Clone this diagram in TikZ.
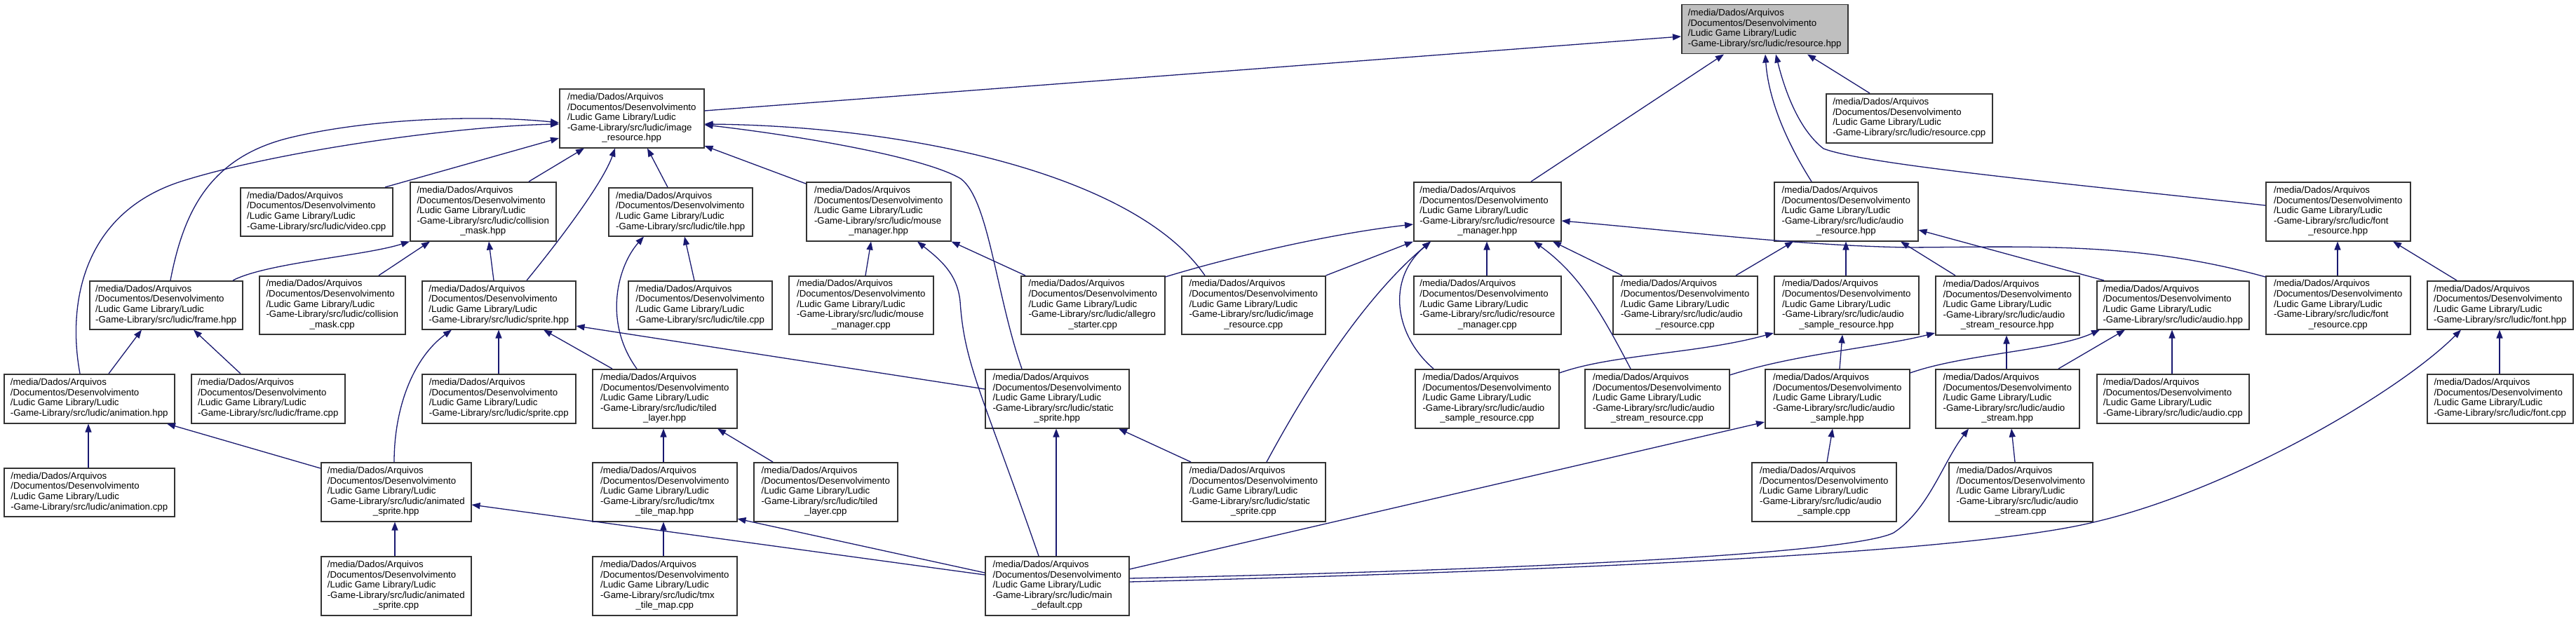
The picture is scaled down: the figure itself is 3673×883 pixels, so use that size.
\documentclass[tikz,border=0pt]{standalone}
\usepackage{fontspec}
\setmainfont{Liberation Sans}
\usetikzlibrary{arrows.meta}
\definecolor{edgeblue}{HTML}{191970}
\newcommand\Lpre{/media/Dados/Arquivos\\/Documentos/Desenvolvimento\\/Ludic Game Library/Ludic\\-Game-Library/src/ludic/}
\newcommand\Lfour[1]{\begin{tabular}{@{}l@{}}\Lpre#1\end{tabular}}
\newcommand\Lfive[2]{\begin{tabular}{@{}l@{}}\Lpre#1\\\multicolumn{1}{@{}c@{}}{#2}\end{tabular}}
\newcommand\nd[6]{\node[box,minimum width=#4pt,minimum height=#5pt] (#1) at (#2,#3) {#6};}
\tikzset{
  box/.style={draw=black!80, line width=1.5pt, fill=white, inner sep=0pt, anchor=north west,
    font=\fontsize{13.25pt}{14.6pt}\selectfont, text=black},
  root/.style={box, fill=black!25},
  e/.style={draw=edgeblue, line width=1.3pt, -{Triangle[length=12pt,width=9pt]}},
}
\begin{document}
\begin{tikzpicture}[x=1pt,y=-1pt]
\fill[white] (0,0) rectangle (3673,883);
\useasboundingbox (0,0) rectangle (3673,883);
% nodes
\node[root,minimum width=237pt,minimum height=70pt] (res) at (2397,6) {\Lfour{resource.hpp}};
\nd{rescpp}{2603}{133}{237}{70}{\Lfour{resource.cpp}}
\nd{imgres}{797}{126}{206}{84}{\Lfive{image}{\_resource.hpp}}
\nd{video}{342}{267}{217}{69}{\Lfour{video.cpp}}
\nd{colmask}{584}{259}{208}{84}{\Lfive{collision}{\_mask.hpp}}
\nd{tile}{867}{267}{205}{69}{\Lfour{tile.hpp}}
\nd{mouse}{1149}{259}{206}{84}{\Lfive{mouse}{\_manager.hpp}}
\nd{resmgr}{2015}{259}{210}{84}{\Lfive{resource}{\_manager.hpp}}
\nd{audres}{2529}{259}{205}{84}{\Lfive{audio}{\_resource.hpp}}
\nd{fontres}{3230}{259}{206}{84}{\Lfive{font}{\_resource.hpp}}
\nd{frame}{127}{400}{218}{69}{\Lfour{frame.hpp}}
\nd{colmaskcpp}{369}{393}{208}{83}{\Lfive{collision}{\_mask.cpp}}
\nd{sprite}{601}{400}{219}{69}{\Lfour{sprite.hpp}}
\nd{tilecpp}{895}{400}{205}{69}{\Lfour{tile.cpp}}
\nd{mousecpp}{1124}{393}{206}{83}{\Lfive{mouse}{\_manager.cpp}}
\nd{allegro}{1455}{393}{205}{83}{\Lfive{allegro}{\_starter.cpp}}
\nd{imgrescpp}{1684}{393}{205}{83}{\Lfive{image}{\_resource.cpp}}
\nd{resmgrcpp}{2015}{393}{210}{83}{\Lfive{resource}{\_manager.cpp}}
\nd{audrescpp}{2299}{393}{206}{83}{\Lfive{audio}{\_resource.cpp}}
\nd{audsampres}{2529}{393}{206}{83}{\Lfive{audio}{\_sample\_resource.hpp}}
\nd{audstreamres}{2759}{393}{205}{84}{\Lfive{audio}{\_stream\_resource.hpp}}
\nd{audio}{2989}{400}{217}{69}{\Lfour{audio.hpp}}
\nd{fontrescpp}{3230}{393}{206}{83}{\Lfive{font}{\_resource.cpp}}
\nd{font}{3460}{400}{208}{69}{\Lfour{font.hpp}}
\nd{animation}{5}{533}{243}{70}{\Lfour{animation.hpp}}
\nd{framecpp}{272}{533}{219}{70}{\Lfour{frame.cpp}}
\nd{spritecpp}{601}{533}{219}{70}{\Lfour{sprite.cpp}}
\nd{tiled}{844}{526}{206}{84}{\Lfive{tiled}{\_layer.hpp}}
\nd{static}{1404}{526}{205}{84}{\Lfive{static}{\_sprite.hpp}}
\nd{audsamprescpp}{2017}{526}{205}{84}{\Lfive{audio}{\_sample\_resource.cpp}}
\nd{audstreamrescpp}{2259}{526}{206}{84}{\Lfive{audio}{\_stream\_resource.cpp}}
\nd{audsamp}{2516}{526}{206}{84}{\Lfive{audio}{\_sample.hpp}}
\nd{audstream}{2759}{526}{205}{84}{\Lfive{audio}{\_stream.hpp}}
\nd{audiocpp}{2989}{533}{217}{70}{\Lfour{audio.cpp}}
\nd{fontcpp}{3460}{533}{208}{70}{\Lfour{font.cpp}}
\nd{animcpp}{5}{667}{243}{69}{\Lfour{animation.cpp}}
\nd{animsprite}{457}{659}{214}{84}{\Lfive{animated}{\_sprite.hpp}}
\nd{tmx}{844}{659}{206}{84}{\Lfive{tmx}{\_tile\_map.hpp}}
\nd{tiledcpp}{1074}{659}{205}{84}{\Lfive{tiled}{\_layer.cpp}}
\nd{staticcpp}{1684}{659}{205}{84}{\Lfive{static}{\_sprite.cpp}}
\nd{audsampcpp}{2497}{659}{206}{84}{\Lfive{audio}{\_sample.cpp}}
\nd{audstreamcpp}{2778}{659}{205}{84}{\Lfive{audio}{\_stream.cpp}}
\nd{animspritecpp}{457}{793}{214}{84}{\Lfive{animated}{\_sprite.cpp}}
\nd{tmxcpp}{844}{793}{206}{84}{\Lfive{tmx}{\_tile\_map.cpp}}
\nd{main}{1404}{793}{205}{84}{\Lfive{main}{\_default.cpp}}
% edges
\draw[e] ([yshift=-32pt]imgres.north east) -- ([yshift=-46pt]res.north west);
\draw[e] ([xshift=168pt]resmgr.north west) -- ([xshift=61pt]res.south west);
\draw[e] ([xshift=54pt]audres.north west) .. controls (2555,215) and (2522,150) .. ([xshift=120pt]res.south west);
\draw[e] ([yshift=-34pt]fontres.north west) .. controls (2950,262) and (2660,235) .. (2600,212) .. controls (2565,185) and (2545,130) .. ([xshift=135pt]res.south west);
\draw[e] ([xshift=63pt]rescpp.north west) -- ([xshift=180pt]res.south west);
\draw[e] ([xshift=207pt]video.north west) -- ([yshift=-71pt]imgres.north west);
\draw[e] ([xshift=170pt]colmask.north west) -- ([xshift=36pt]imgres.south west);
\draw[e] ([xshift=150pt]sprite.north west) .. controls (800,340) and (860,260) .. ([xshift=80pt]imgres.south west);
\draw[e] ([xshift=85pt]tile.north west) -- ([xshift=126pt]imgres.south west);
\draw[e] ([yshift=-3pt]mouse.north west) -- ([yshift=-82pt]imgres.north east);
\draw[e] ([xshift=34pt]imgrescpp.north west) .. controls (1620,250) and (1300,180) .. ([yshift=-51pt]imgres.north east);
\draw[e] ([xshift=53pt]static.north west) .. controls (1420,420) and (1410,285) .. (1370,255) .. controls (1320,225) and (1150,195) .. ([yshift=-52pt]imgres.north east);
\draw[e] ([xshift=116pt]frame.north west) .. controls (262,300) and (300,225) .. (411,197) .. controls (520,170) and (680,163) .. ([yshift=-49pt]imgres.north west);
\draw[e] ([xshift=109pt]animation.north west) .. controls (95,430) and (120,300) .. (264,257) .. controls (400,215) and (650,180) .. ([yshift=-51pt]imgres.north west);
\draw[e] ([xshift=110pt]mousecpp.north west) -- ([xshift=93pt]mouse.south west);
\draw[e] ([xshift=77pt]main.north west) .. controls (1400,560) and (1375,520) .. (1369,430) .. controls (1365,390) and (1340,370) .. ([xshift=159pt]mouse.south west);
\draw[e] ([xshift=7pt]allegro.north west) -- (mouse.south east);
\draw[e] ([xshift=205pt]frame.north west) .. controls (380,375) and (520,365) .. (colmask.south west);
\draw[e] ([xshift=171pt]colmaskcpp.north west) -- ([xshift=29pt]colmask.south west);
\draw[e] ([xshift=103pt]sprite.north west) -- ([xshift=113pt]colmask.south west);
\draw[e] ([xshift=64pt]tiled.north west) .. controls (860,460) and (880,380) .. ([xshift=51pt]tile.south west);
\draw[e] ([xshift=95pt]tilecpp.north west) -- ([xshift=109pt]tile.south west);
\draw[e] ([xshift=110pt]spritecpp.north west) -- ([xshift=110pt]sprite.south west);
\draw[e] ([xshift=105pt]animsprite.north west) .. controls (562,580) and (590,510) .. ([xshift=43pt]sprite.south west);
\draw[e] ([xshift=29pt]tiled.north west) -- ([xshift=174pt]sprite.south west);
\draw[e] ([yshift=-29pt]static.north west) -- ([yshift=-65pt]sprite.north east);
\draw[e] ([xshift=150pt]animation.north west) -- ([xshift=75pt]frame.south west);
\draw[e] ([xshift=71pt]framecpp.north west) -- ([xshift=149pt]frame.south west);
\draw[e] ([xshift=121pt]animcpp.north west) -- ([xshift=121pt]animation.south west);
\draw[e] ([yshift=-9pt]animsprite.north west) -- ([xshift=233pt]animation.south west);
\draw[e] ([xshift=106pt]animspritecpp.north west) -- ([xshift=106pt]animsprite.south west);
\draw[e] ([yshift=-27pt]main.north west) -- ([yshift=-61pt]animsprite.north east);
\draw[e] ([xshift=102pt]tmx.north west) -- ([xshift=102pt]tiled.south west);
\draw[e] ([xshift=28pt]tiledcpp.north west) -- ([xshift=179pt]tiled.south west);
\draw[e] ([xshift=102pt]tmxcpp.north west) -- ([xshift=102pt]tmx.south west);
\draw[e] ([yshift=-24pt]main.north west) -- ([yshift=-81pt]tmx.north east);
\draw[e] ([xshift=102pt]main.north west) -- ([xshift=102pt]static.south west);
\draw[e] ([xshift=14pt]staticcpp.north west) -- ([xshift=191pt]static.south west);
\draw[e] (imgrescpp.north east) -- (resmgr.south west);
\draw[e] ([yshift=-2pt]allegro.north east) .. controls (1760,365) and (1900,333) .. ([yshift=-61pt]resmgr.north west);
\draw[e] ([xshift=105pt]resmgrcpp.north west) -- ([xshift=105pt]resmgr.south west);
\draw[e] ([xshift=14pt]audrescpp.north west) -- ([xshift=199pt]resmgr.south west);
\draw[e] ([xshift=122pt]staticcpp.north west) .. controls (1870,540) and (1950,420) .. ([xshift=25pt]resmgr.south west);
\draw[e] ([xshift=27pt]audsamprescpp.north west) .. controls (1990,480) and (1975,400) .. ([xshift=25pt]resmgr.south west);
\draw[e] ([xshift=66pt]audstreamrescpp.north west) .. controls (2280,440) and (2250,390) .. ([xshift=172pt]resmgr.south west);
\draw[e] ([yshift=-2pt]fontrescpp.north west) .. controls (3050,345) and (2900,352) .. (2720,353) .. controls (2560,350) and (2400,330) .. ([yshift=-56pt]resmgr.north east);
\draw[e] ([xshift=176pt]audrescpp.north west) -- ([xshift=28pt]audres.south west);
\draw[e] ([xshift=103pt]audsampres.north west) -- ([xshift=103pt]audres.south west);
\draw[e] ([xshift=29pt]audstreamres.north west) -- ([xshift=181pt]audres.south west);
\draw[e] ([xshift=11pt]audio.north west) -- ([yshift=-69pt]audres.north east);
\draw[e] ([xshift=43pt]font.north west) -- ([xshift=182pt]fontres.south west);
\draw[e] ([xshift=103pt]fontrescpp.north west) -- ([xshift=103pt]fontres.south west);
\draw[e] ([xshift=104pt]fontcpp.north west) -- ([xshift=104pt]font.south west);
\draw[e] ([yshift=-37pt]main.north east) .. controls (2200,815) and (2800,790) .. (2985,745) .. controls (3180,700) and (3420,560) .. ([xshift=49pt]font.south west);
\draw[e] ([yshift=-32pt]main.north east) .. controls (2300,810) and (2650,785) .. (2700,760) .. controls (2750,727) and (2770,660) .. ([xshift=48pt]audstream.south west);
\draw[e] ([yshift=-19pt]main.north east) -- ([yshift=-76pt]audsamp.north west);
\draw[e] ([yshift=-6pt]audsamprescpp.north east) .. controls (2300,505) and (2420,505) .. ([yshift=-82pt]audsampres.north west);
\draw[e] ([xshift=107pt]audsamp.north west) -- ([xshift=98pt]audsampres.south west);
\draw[e] ([yshift=-9pt]audstreamrescpp.north east) .. controls (2560,505) and (2680,495) .. ([yshift=-82pt]audstreamres.north west);
\draw[e] ([xshift=102pt]audstream.north west) -- ([xshift=102pt]audstreamres.south west);
\draw[e] ([yshift=-6pt]audsamp.north east) .. controls (2800,505) and (2930,500) .. ([xshift=5pt]audio.south west);
\draw[e] ([xshift=176pt]audstream.north west) -- ([xshift=41pt]audio.south west);
\draw[e] ([xshift=108pt]audiocpp.north west) -- ([xshift=108pt]audio.south west);
\draw[e] ([xshift=108pt]audsampcpp.north west) -- ([xshift=97pt]audsamp.south west);
\draw[e] ([xshift=95pt]audstreamcpp.north west) -- ([xshift=109pt]audstream.south west);
\end{tikzpicture}
\end{document}
